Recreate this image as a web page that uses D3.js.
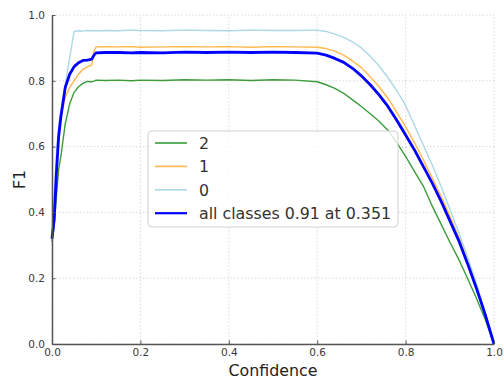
<!DOCTYPE html>
<html>
<head>
<meta charset="utf-8">
<script src="https://cdn.jsdelivr.net/npm/d3@7"></script>
<style>
  body { margin: 0; background: #fff; }
  svg { display: block; font-family: "DejaVu Sans", sans-serif; }
</style>
</head>
<body>
<div id="chart"></div>
<script>
// confidence thresholds (x) shared by every curve
const confidence = [0, 0.005, 0.01, 0.015, 0.02, 0.03, 0.04, 0.05, 0.06, 0.07,
  0.08, 0.09, 0.095, 0.1, 0.12, 0.15, 0.18, 0.2, 0.25, 0.3,
  0.35, 0.4, 0.45, 0.5, 0.55, 0.6, 0.62, 0.64, 0.66, 0.68,
  0.7, 0.72, 0.74, 0.76, 0.78, 0.8, 0.82, 0.84, 0.86, 0.88,
  0.9, 0.92, 0.94, 0.96, 0.98, 1.0];

const f1Class2 = [0.31, 0.36, 0.45, 0.53, 0.57, 0.67, 0.73, 0.765, 0.782, 0.792,
  0.798, 0.797, 0.799, 0.802, 0.801, 0.802, 0.800, 0.802, 0.801, 0.803,
  0.802, 0.803, 0.801, 0.803, 0.802, 0.797, 0.788, 0.777, 0.762, 0.742,
  0.722, 0.700, 0.677, 0.650, 0.612, 0.570, 0.525, 0.480, 0.420, 0.365,
  0.310, 0.258, 0.200, 0.140, 0.075, 0.0];

const f1Class1 = [0.33, 0.40, 0.54, 0.64, 0.69, 0.75, 0.78, 0.80, 0.82, 0.835,
  0.842, 0.848, 0.89, 0.903, 0.904, 0.903, 0.904, 0.902, 0.903, 0.904,
  0.903, 0.904, 0.902, 0.904, 0.903, 0.902, 0.898, 0.890, 0.878, 0.860,
  0.840, 0.812, 0.782, 0.747, 0.705, 0.660, 0.612, 0.560, 0.505, 0.450,
  0.390, 0.325, 0.255, 0.180, 0.095, 0.0];

const f1Class0 = [0.34, 0.45, 0.58, 0.66, 0.71, 0.79, 0.87, 0.95, 0.952, 0.951,
  0.953, 0.952, 0.953, 0.952, 0.953, 0.952, 0.954, 0.953, 0.952, 0.954,
  0.953, 0.952, 0.954, 0.953, 0.953, 0.954, 0.950, 0.942, 0.932, 0.918,
  0.900, 0.875, 0.845, 0.810, 0.770, 0.725, 0.665, 0.605, 0.545, 0.480,
  0.410, 0.340, 0.265, 0.185, 0.095, 0.0];

const f1All = [0.32, 0.38, 0.52, 0.63, 0.69, 0.78, 0.82, 0.843, 0.855, 0.862,
  0.863, 0.866, 0.878, 0.885, 0.886, 0.886, 0.885, 0.886, 0.885, 0.887,
  0.886, 0.887, 0.886, 0.887, 0.886, 0.884, 0.878, 0.868, 0.856, 0.838,
  0.815, 0.788, 0.757, 0.722, 0.680, 0.635, 0.590, 0.540, 0.490, 0.435,
  0.375, 0.315, 0.245, 0.170, 0.090, 0.0];

const seriesNames = ["2", "1", "0", "all classes 0.91 at 0.351"];
const seriesColors = ["#3a9d3a", "#ffb84d", "#add8e6", "#0000ff"];
const seriesWidths = [1.4, 1.4, 1.4, 2.8];
const tickValues = [0, 0.2, 0.4, 0.6, 0.8, 1.0];

const width = 504, height = 380;
const margin = { left: 52, right: 10, top: 15, bottom: 36 };

const svg = d3.select("#chart").append("svg")
  .attr("width", width)
  .attr("height", height);

const x = d3.scaleLinear().domain([0, 1]).range([margin.left, width - margin.right]);
const y = d3.scaleLinear().domain([0, 1]).range([height - margin.bottom, margin.top]);

// dotted grid
const grid = svg.append("g")
  .attr("stroke", "#cfcfcf")
  .attr("stroke-width", 0.8)
  .attr("stroke-dasharray", "1.5,2");
grid.selectAll("line.gx").data(tickValues).join("line")
  .attr("class", "gx")
  .attr("x1", d => x(d)).attr("x2", d => x(d))
  .attr("y1", y(0)).attr("y2", y(1));
grid.selectAll("line.gy").data(tickValues).join("line")
  .attr("class", "gy")
  .attr("x1", x(0)).attr("x2", x(1))
  .attr("y1", d => y(d)).attr("y2", d => y(d));

// curves
const seriesData = [f1Class2, f1Class1, f1Class0, f1All];
const line = d3.line()
  .x(d => x(d[0]))
  .y(d => y(d[1]));

svg.append("g")
  .attr("fill", "none")
  .selectAll("path")
  .data(seriesData)
  .join("path")
  .attr("stroke", (d, i) => seriesColors[i])
  .attr("stroke-width", (d, i) => seriesWidths[i])
  .attr("stroke-linejoin", "round")
  .attr("d", vals => line(d3.zip(confidence, vals)));

// axes (left + bottom only, ticks pointing in)
const xAxis = svg.append("g")
  .attr("transform", `translate(0,${y(0)})`)
  .call(d3.axisBottom(x).tickValues(tickValues).tickFormat(d3.format(".1f"))
    .tickSizeInner(-3.5).tickSizeOuter(0).tickPadding(5));
const yAxis = svg.append("g")
  .attr("transform", `translate(${x(0)},0)`)
  .call(d3.axisLeft(y).tickValues(tickValues).tickFormat(d3.format(".1f"))
    .tickSizeInner(-3.5).tickSizeOuter(0).tickPadding(7));

[xAxis, yAxis].forEach(ax => {
  ax.select(".domain").attr("stroke", "#555").attr("stroke-width", 1.5);
  ax.selectAll(".tick line").attr("stroke", "#555");
  ax.selectAll(".tick text")
    .attr("fill", "#3a3a3a")
    .style("font-size", "10.5px")
    .style("font-family", "DejaVu Sans");
});

// axis titles
svg.append("text")
  .attr("x", (x(0) + x(1)) / 2)
  .attr("y", 376)
  .attr("text-anchor", "middle")
  .attr("fill", "#222")
  .style("font-size", "15.8px")
  .text("Confidence");

svg.append("text")
  .attr("transform", `translate(25,${(y(0) + y(1)) / 2}) rotate(-90)`)
  .attr("text-anchor", "middle")
  .attr("fill", "#222")
  .style("font-size", "15.8px")
  .text("F1");

// legend
const legend = svg.append("g").attr("transform", "translate(148,131)");
legend.append("rect")
  .attr("width", 250).attr("height", 96)
  .attr("rx", 4)
  .attr("fill", "#fff").attr("fill-opacity", 0.8)
  .attr("stroke", "#d0d0d0");

const rows = legend.selectAll("g.row")
  .data(seriesNames)
  .join("g")
  .attr("class", "row")
  .attr("transform", (d, i) => `translate(0,${12 + i * 23.4})`);
rows.append("line")
  .attr("x1", 7).attr("x2", 39)
  .attr("stroke", (d, i) => seriesColors[i])
  .attr("stroke-width", (d, i) => i === 3 ? 2.2 : 1.6);
rows.append("text")
  .attr("x", 51)
  .attr("dy", "0.36em")
  .attr("fill", "#333")
  .style("font-size", "15.8px")
  .text(d => d);
</script>
</body>
</html>
